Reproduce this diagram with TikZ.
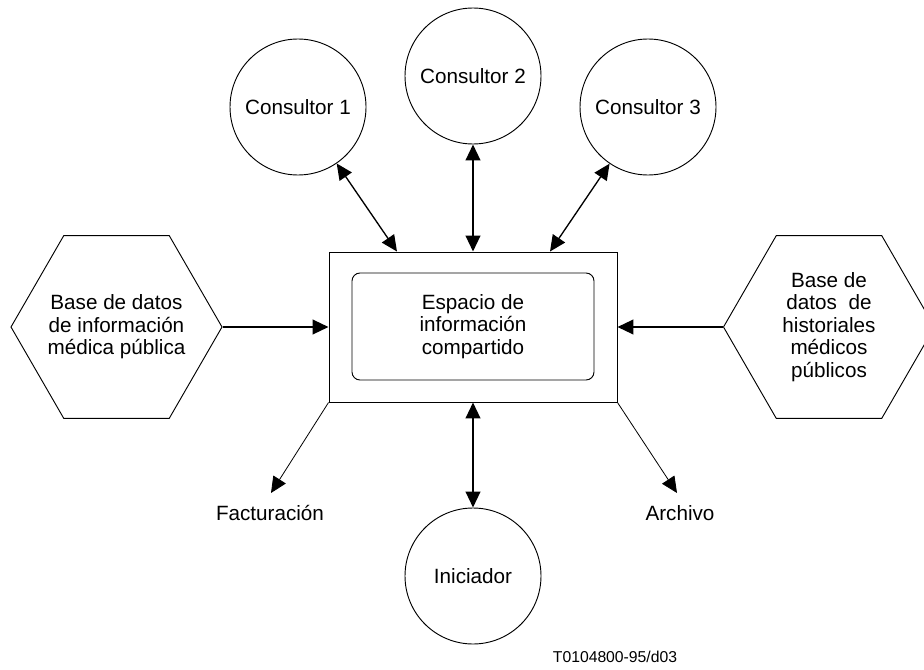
\documentclass[tikz,border=0pt]{standalone}
\usepackage{fontspec}
\setmainfont{Liberation Sans}
\usetikzlibrary{arrows.meta,shapes.geometric,calc}
\begin{document}
\begin{tikzpicture}[x=0.75pt,y=0.75pt,
  every node/.style={font=\fontsize{15.5}{16.9}\selectfont, align=center},
  outline/.style={draw, line width=0.7pt, inner sep=0pt},
  party/.style={outline, circle, minimum size=102pt},
  store/.style={outline, regular polygon, regular polygon sides=6, minimum size=158.25pt},
  >={Triangle[length=12pt,width=11pt]},
  heavy/.style={line width=1.6pt},
  medium/.style={line width=1pt},
  light/.style={line width=0.6pt},
]
\useasboundingbox (0,0) rectangle (924,669);

% shared information space
\node[outline, minimum width=216pt, minimum height=112.5pt] (space) at (473,342) {};
\node[outline, rounded corners=6pt, minimum width=181.5pt, minimum height=80.25pt] (core) at (473,342.5)
  {Espacio de\\información\\compartido};

% consultants and initiator
\node[party] (c1) at (298,562) {Consultor 1};
\node[party] (c2) at (473,593) {Consultor 2};
\node[party] (c3) at (648,562) {Consultor 3};
\node[party] (ini) at (473,93) {Iniciador};

% public databases: hexagon outlines with their captions set on top
\node[store] (dbl) at (116.5,342) {};
\node (dbltext) at (dbl.center) {Base de datos\\de información\\médica pública};
\node[store] (dbr) at (829,342) {};
\node (dbrtext) at (dbr.center) {Base de\\datos\ \ de\\historiales\\médicos\\públicos};

% outputs
\coordinate (fact) at (271,176);
\coordinate (arch) at (677,176);
\node (lfact) at (270,156) {Facturación};
\node (larch) at (680,156) {Archivo};

% connectors
\draw[medium,<->] ($(space.north)+(-76,0)$) -- (c1);
\draw[heavy,<->] (space.north) -- (c2.south);
\draw[medium,<->] ($(space.north)+(77,0)$) -- (c3);
\draw[heavy,<->] (space.south) -- (ini.north);
\draw[heavy,->] (dbl.east) -- (space.west);
\draw[heavy,->] (dbr.west) -- (space.east);
\draw[light,->] (space.south west) -- (fact);
\draw[light,->] (space.south east) -- (arch);

\node[font=\fontsize{11.8}{13}\selectfont] (ref) at (615,12) {T0104800-95/d03};
\end{tikzpicture}
\end{document}
